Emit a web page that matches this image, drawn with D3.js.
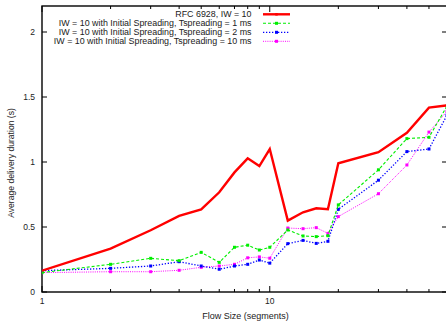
<!DOCTYPE html>
<html><head><meta charset="utf-8">
<script src="https://cdn.jsdelivr.net/npm/d3@7"></script>
<style>body{margin:0;background:#fff}svg{display:block}text{font-family:"Liberation Sans",Arial,sans-serif;fill:#222}</style>
</head><body><svg id="c" width="446" height="321"></svg>
<script>
const flowSizes = [1,2,3,4,5,6,7,8,9,10,12,14,16,18,20,30,40,50,60];
const rfc6928   = [0.164,0.333,0.475,0.585,0.636,0.767,0.92,1.028,0.969,1.10,0.549,0.613,0.644,0.636,0.99,1.075,1.225,1.418,1.436];
const spread1ms = [0.149,0.213,0.259,0.241,0.305,0.228,0.344,0.36,0.323,0.344,0.477,0.431,0.426,0.433,0.67,0.94,1.18,1.19,1.43];
const spread2ms = [0.164,0.182,0.2,0.233,0.2,0.175,0.2,0.213,0.246,0.222,0.372,0.397,0.374,0.39,0.636,0.86,1.08,1.10,1.36];
const spread10ms= [0.149,0.156,0.156,0.167,0.19,0.2,0.213,0.263,0.27,0.26,0.492,0.487,0.495,0.451,0.58,0.756,0.977,1.23,1.39];
const seriesNames = ["RFC 6928, IW = 10","IW = 10 with Initial Spreading, Tspreading = 1 ms","IW = 10 with Initial Spreading, Tspreading = 2 ms","IW = 10 with Initial Spreading, Tspreading = 10 ms"];
const yTicks = [0,0.5,1,1.5,2];
const xTickLabels = [1,10];
const xTitle = "Flow Size (segments)";
const yTitle = "Average delivery duration (s)";

const svg = d3.select("#c");
const L=42, R=447, T=6, B=292;
const x = d3.scaleLog().domain([1,60]).range([L,R]);
const y = d3.scaleLinear().domain([0,2.2]).range([B,T]);

const styles = [
  {color:"#ff0000", w:2.4, dash:null, ms:0},
  {color:"#00ee00", w:1.1, dash:"3,2", ms:3},
  {color:"#0000ff", w:1.3, dash:"1.3,1.7", ms:3},
  {color:"#ff00ff", w:1.0, dash:"1,1.2", ms:3}
];
const data = [rfc6928, spread1ms, spread2ms, spread10ms];

const g = svg.append("g");
const minorX = [2,3,4,5,6,7,8,9,20,30,40,50];
const majorX = [1,10];
majorX.forEach(v=>{
  g.append("line").attr("x1",x(v)).attr("x2",x(v)).attr("y1",B).attr("y2",B-6).attr("stroke","#000").attr("stroke-width",1);
  g.append("line").attr("x1",x(v)).attr("x2",x(v)).attr("y1",T).attr("y2",T+6).attr("stroke","#000").attr("stroke-width",1);
});
minorX.forEach(v=>{
  g.append("line").attr("x1",x(v)).attr("x2",x(v)).attr("y1",B).attr("y2",B-3).attr("stroke","#000").attr("stroke-width",1);
  g.append("line").attr("x1",x(v)).attr("x2",x(v)).attr("y1",T).attr("y2",T+3).attr("stroke","#000").attr("stroke-width",1);
});
yTicks.forEach(v=>{
  g.append("line").attr("x1",L).attr("x2",L+5).attr("y1",y(v)).attr("y2",y(v)).attr("stroke","#000").attr("stroke-width",1);
  g.append("line").attr("x1",R-5).attr("x2",R).attr("y1",y(v)).attr("y2",y(v)).attr("stroke","#000").attr("stroke-width",1);
  g.append("text").attr("x",L-7).attr("y",y(v)+3).attr("text-anchor","end").attr("font-size",8.5).text(v);
});
xTickLabels.forEach(v=>{
  g.append("text").attr("x",x(v)).attr("y",304).attr("text-anchor","middle").attr("font-size",8.5).text(v);
});
g.append("rect").attr("x",L).attr("y",T).attr("width",R-L).attr("height",B-T).attr("fill","none").attr("stroke","#000").attr("stroke-width",1.4);

svg.append("text").attr("x",245.5).attr("y",318.5).attr("text-anchor","middle").attr("font-size",9).text(xTitle);
svg.append("text").attr("transform","translate(13.5,163) rotate(-90)").attr("text-anchor","middle").attr("font-size",8.6).text(yTitle);

const line = d3.line().x((d,i)=>x(flowSizes[i])).y(d=>y(d));
svg.append("clipPath").attr("id","pc").append("rect").attr("x",L).attr("y",T).attr("width",R-L).attr("height",B-T);
const plot = svg.append("g").attr("clip-path","url(#pc)");
[3,2,1,0].forEach(k=>{
  const s = styles[k];
  plot.append("path").datum(data[k]).attr("d",line).attr("fill","none").attr("stroke",s.color).attr("stroke-width",s.w).attr("stroke-dasharray",s.dash).attr("stroke-linejoin","miter");
  if(s.ms) plot.selectAll(null).data(data[k]).enter().append("rect")
    .attr("x",(d,i)=>x(flowSizes[i])-s.ms/2).attr("y",d=>y(d)-s.ms/2).attr("width",s.ms).attr("height",s.ms).attr("fill",s.color);
});

const ly = [14.3,23.3,32.3,41.3];
seriesNames.forEach((n,k)=>{
  const s = styles[k];
  svg.append("text").attr("x",251.5).attr("y",ly[k]+3.1).attr("text-anchor","end").attr("font-size",8.9).text(n);
  svg.append("line").attr("x1",263).attr("x2",290).attr("y1",ly[k]).attr("y2",ly[k]).attr("stroke",s.color).attr("stroke-width",s.w).attr("stroke-dasharray",s.dash);
  const ms = s.ms||2.5;
  svg.append("rect").attr("x",276.5-ms/2).attr("y",ly[k]-ms/2).attr("width",ms).attr("height",ms).attr("fill",s.color);
});
</script></body></html>
